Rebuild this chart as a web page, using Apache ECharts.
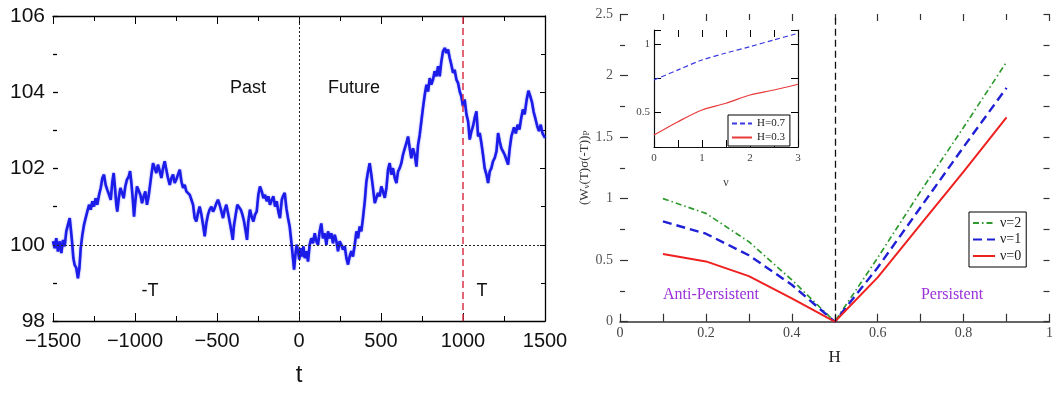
<!DOCTYPE html>
<html>
<head>
<meta charset="utf-8">
<script src="https://cdn.jsdelivr.net/npm/echarts@6/dist/echarts.min.js"></script>
<style>
  html, body { margin: 0; padding: 0; background: #fff; }
  #chart { width: 1056px; height: 405px; }
</style>
</head>
<body>
<div id="chart"></div>
<script>
// Price path over time, [t, price]
const walk = [
  [-1500,100.09],[-1490,99.91],[-1480,100.17],[-1470,99.82],[-1459,100.09],[-1449,99.78],[-1439,100.13],[-1429,99.96],
  [-1419,100.35],[-1409,100.52],[-1398,100.70],[-1392,100.44],[-1384,100.09],[-1376,99.65],[-1368,99.47],[-1358,99.39],
  [-1348,99.12],[-1339,99.39],[-1331,99.91],[-1321,100.26],[-1311,100.52],[-1301,100.70],[-1291,100.87],[-1280,101.05],
  [-1270,100.92],[-1260,101.14],[-1250,101.00],[-1240,101.22],[-1230,101.05],[-1219,101.31],[-1209,101.49],[-1199,101.75],
  [-1189,101.84],[-1179,101.57],[-1169,101.44],[-1158,101.31],[-1148,101.18],[-1138,101.66],[-1130,101.88],[-1122,101.49],
  [-1114,101.05],[-1108,100.87],[-1099,101.22],[-1089,101.49],[-1079,101.36],[-1069,101.22],[-1059,101.53],[-1049,101.71],
  [-1038,101.79],[-1030,101.93],[-1022,101.62],[-1014,101.22],[-1006,100.74],[-998,101.14],[-988,101.53],[-978,101.57],
  [-967,101.31],[-957,101.09],[-947,101.27],[-937,101.40],[-927,101.05],[-917,101.27],[-908,101.57],[-900,101.84],
  [-890,102.14],[-880,102.01],[-870,101.88],[-860,102.10],[-849,101.93],[-839,101.75],[-829,102.01],[-819,102.19],
  [-809,101.97],[-799,101.75],[-788,101.57],[-778,101.75],[-768,101.84],[-758,101.62],[-748,101.71],[-738,101.84],
  [-727,101.97],[-717,101.66],[-707,101.49],[-697,101.57],[-687,101.40],[-677,101.44],[-666,101.31],[-656,101.36],
  [-646,101.05],[-636,100.70],[-626,100.61],[-616,100.83],[-606,101.00],[-595,100.79],[-585,100.52],[-575,100.22],
  [-565,100.57],[-555,100.79],[-545,100.92],[-534,101.00],[-524,100.87],[-514,100.96],[-504,101.09],[-494,101.18],
  [-484,101.05],[-473,100.87],[-463,100.70],[-453,100.92],[-443,101.05],[-433,100.83],[-423,100.61],[-412,100.35],
  [-404,100.13],[-396,100.52],[-386,100.79],[-376,101.05],[-366,101.09],[-355,100.92],[-345,100.79],[-335,100.61],
  [-325,100.35],[-317,100.13],[-309,100.61],[-299,100.92],[-289,100.74],[-278,100.61],[-268,100.79],[-258,100.87],
  [-248,101.31],[-238,101.53],[-227,101.40],[-217,101.22],[-207,101.31],[-197,101.14],[-187,101.27],[-177,101.05],
  [-166,101.18],[-156,101.27],[-146,101.00],[-136,101.14],[-126,100.87],[-116,100.70],[-105,101.18],
  [-98,101.27],[-87,101.36],[-77,100.96],[-67,100.70],[-57,100.48],[-47,100.09],[-39,99.74],[-30,99.35],
  [-22,99.74],[-14,100.00],[-6,99.83],[2,99.61],[10,99.91],[18,99.69],[27,99.96],[35,99.65],
  [45,99.83],[55,99.56],[65,100.00],[75,100.17],[85,100.04],[96,100.30],[106,100.09],[116,100.00],
  [126,100.35],[136,100.56],[146,100.17],[157,100.30],[167,100.00],[177,100.35],[187,100.17],[197,100.30],
  [207,100.04],[218,100.26],[228,100.09],[238,99.83],[248,100.09],[258,100.00],[268,99.87],[279,99.96],
  [289,99.65],[299,99.48],[309,99.69],[319,99.83],[329,99.69],[340,100.00],[350,100.35],[360,100.17],
  [370,100.48],[380,100.35],[390,100.70],[401,101.14],[411,101.66],[421,101.92],[431,102.14],[441,101.84],
  [451,101.49],[462,101.09],[472,101.23],[482,101.36],[492,101.27],[502,101.53],[512,101.40],[523,101.23],
  [533,101.49],[543,101.97],[553,102.14],[563,101.84],[573,102.01],[584,101.75],[594,101.62],[604,101.92],
  [614,102.01],[624,102.14],[634,102.36],[645,102.53],[655,102.67],[665,102.84],[675,102.53],[685,102.27],
  [695,102.53],[706,102.36],[716,102.05],[726,102.62],[736,102.88],[746,103.24],[756,103.59],[767,103.94],
  [777,104.20],[787,104.02],[797,104.37],[807,104.20],[817,104.33],[827,104.55],[838,104.42],[848,104.68],
  [858,104.42],[868,104.81],[878,105.07],[889,105.16],[899,105.03],[909,105.12],[919,104.90],[929,104.72],
  [939,104.51],[949,104.59],[960,104.33],[970,104.24],[980,104.02],[990,103.89],[1000,103.63],[1010,103.81],
  [1021,103.42],[1031,103.24],[1041,102.76],[1051,102.97],[1061,103.11],[1071,103.32],[1082,103.50],[1092,102.84],
  [1102,102.93],[1112,102.67],[1122,102.36],[1132,102.01],[1143,101.84],[1153,101.62],[1163,101.92],[1173,102.01],
  [1183,102.19],[1193,102.27],[1204,102.45],[1214,102.93],[1224,102.71],[1234,102.53],[1244,102.45],[1254,102.36],
  [1265,102.23],[1275,102.10],[1285,102.53],[1295,102.84],[1311,103.08],[1322,102.92],[1333,103.15],[1344,103.02],
  [1354,103.30],[1365,103.55],[1376,103.42],[1388,103.80],[1399,104.04],[1410,103.90],[1420,103.75],[1431,103.48],
  [1442,103.30],[1452,103.12],[1463,102.98],[1474,103.15],[1485,102.92],[1500,102.80]
];

// Correlation vs Hurst exponent, one curve per nu
const hurst = [0.1, 0.2, 0.3, 0.4, 0.5, 0.6, 0.7, 0.8, 0.9];
const corrNu2 = [1.00, 0.88, 0.65, 0.34, 0, 0.52, 1.06, 1.58, 2.11];
const corrNu1 = [0.815, 0.715, 0.54, 0.30, 0, 0.44, 0.93, 1.42, 1.90];
const corrNu0 = [0.55, 0.49, 0.37, 0.19, 0, 0.36, 0.79, 1.22, 1.66];

// Inset: correlation vs nu at fixed H
const nuValues = [0, 0.5, 1, 1.5, 2, 2.5, 3];
const insetH07 = [0.737, 0.81, 0.882, 0.933, 0.979, 1.028, 1.076];
const insetH03 = [0.337, 0.434, 0.519, 0.568, 0.628, 0.664, 0.706];

const SANS = "'Liberation Sans',Arial,sans-serif";
const SERIF = "'Liberation Serif','Times New Roman',serif";

const pair = (xs, ys) => xs.map((x, i) => [x, ys[i]]);
const black = { color: '#000', width: 1 };

function frameAxis(extra) {
  return Object.assign({
    type: 'value',
    splitLine: { show: false },
    axisLabel: { show: false },
    axisLine: { show: false, onZero: false, lineStyle: black },
    axisTick: { inside: true, length: 6, lineStyle: black },
    minorTick: { show: true, splitNumber: 2, length: 4, lineStyle: black }
  }, extra);
}

// legend swatches show the line pattern only, no marker
const legendBase = {
  orient: 'vertical', borderColor: '#000', borderWidth: 1, backgroundColor: '#fff',
  selectedMode: false, itemStyle: { opacity: 0, borderWidth: 0 }
};

const chart = echarts.init(document.getElementById('chart'));

chart.setOption({
  animation: false,
  backgroundColor: '#fff',
  grid: [
    { left: 53, top: 16, width: 492, height: 305 },
    { left: 620, top: 14, width: 436, height: 307.7 },
    { left: 654, top: 30, width: 144, height: 117 }
  ],
  xAxis: [
    frameAxis({
      gridIndex: 0, position: 'bottom', min: -1500, max: 1500, interval: 500,
      axisLine: { show: true, onZero: false, lineStyle: { color: '#000', width: 1.3 } },
      axisTick: { inside: true, length: 8, lineStyle: black },
      minorTick: { show: true, splitNumber: 2, length: 5, lineStyle: black },
      axisLabel: {
        show: true, margin: 10, fontFamily: SANS, fontSize: 20, color: '#111',
        formatter: v => (v < 0 ? '\u2212' : '') + Math.abs(v)
      },
      name: 't', nameLocation: 'middle', nameGap: 42,
      nameTextStyle: { fontFamily: SANS, fontSize: 24, color: '#111' }
    }),
    frameAxis({
      gridIndex: 0, position: 'top', min: -1500, max: 1500, interval: 500,
      axisLine: { show: true, onZero: false, lineStyle: { color: '#000', width: 1.3 } },
      axisTick: { inside: true, length: 8, lineStyle: black },
      minorTick: { show: true, splitNumber: 2, length: 5, lineStyle: black }
    }),
    frameAxis({
      gridIndex: 1, position: 'bottom', min: 0, max: 1, interval: 0.2,
      axisLine: { show: true, onZero: false, lineStyle: { color: '#333', width: 1.6 } },
      axisTick: { inside: true, length: 8, lineStyle: { color: '#333', width: 1.2 } },
      minorTick: { show: true, splitNumber: 2, length: 8, lineStyle: { color: '#333', width: 1.2 } },
      axisLabel: { show: true, margin: 5, fontFamily: SERIF, fontSize: 14, color: '#444' },
      name: 'H', nameLocation: 'middle', nameGap: 27,
      nameTextStyle: { fontFamily: SERIF, fontSize: 17, color: '#222' }
    }),
    frameAxis({
      gridIndex: 1, position: 'top', min: 0, max: 1, interval: 0.2,
      axisTick: { inside: true, length: 7, lineStyle: { color: '#333', width: 1.2 } },
      minorTick: { show: true, splitNumber: 2, length: 6, lineStyle: { color: '#333', width: 1.2 } }
    }),
    frameAxis({
      gridIndex: 2, position: 'bottom', min: 0, max: 3, interval: 1,
      axisLine: { show: true, onZero: false, lineStyle: { color: '#111', width: 1.2 } },
      axisTick: { inside: true, length: 7, lineStyle: black },
      minorTick: { show: true, splitNumber: 2, length: 7, lineStyle: black },
      axisLabel: { show: true, margin: 6, fontFamily: SERIF, fontSize: 11, color: '#444' },
      name: '\u03bd', nameLocation: 'middle', nameGap: 30,
      nameTextStyle: { fontFamily: SERIF, fontSize: 12, color: '#444' }
    }),
    frameAxis({
      gridIndex: 2, position: 'top', min: 0, max: 3, interval: 1,
      axisTick: { inside: true, length: 7, lineStyle: black },
      minorTick: { show: true, splitNumber: 2, length: 7, lineStyle: black }
    })
  ],
  yAxis: [
    frameAxis({
      gridIndex: 0, position: 'left', min: 98, max: 106, interval: 2,
      axisTick: { inside: true, length: 5, lineStyle: { color: '#000', width: 1.3 } },
      minorTick: { show: true, splitNumber: 2, length: 4, lineStyle: { color: '#000', width: 1.3 } },
      axisLabel: { show: true, margin: 8, fontFamily: SANS, fontSize: 21, color: '#111' }
    }),
    frameAxis({
      gridIndex: 0, position: 'right', min: 98, max: 106, interval: 2,
      axisLine: { show: true, onZero: false, lineStyle: { color: '#000', width: 1.3 } },
      axisTick: { inside: true, length: 5, lineStyle: black },
      minorTick: { show: true, splitNumber: 2, length: 4, lineStyle: black }
    }),
    frameAxis({
      gridIndex: 1, position: 'left', min: 0, max: 2.5, interval: 0.5,
      axisTick: { inside: true, length: 8, lineStyle: { color: '#333', width: 1.2 } },
      minorTick: { show: true, splitNumber: 2, length: 5, lineStyle: { color: '#333', width: 1.2 } },
      axisLabel: { show: true, margin: 7, fontFamily: SERIF, fontSize: 14, color: '#555' },
      name: '(W{s|\u03bd}(T)\u03c3(-T)){s|P}', nameLocation: 'middle', nameGap: 22, nameRotate: 90,
      nameTextStyle: {
        fontFamily: SERIF, fontSize: 13, color: '#333',
        rich: { s: { fontFamily: SERIF, fontSize: 9, color: '#333', padding: [6, 0, 0, 0] } }
      }
    }),
    frameAxis({
      gridIndex: 1, position: 'right', min: 0, max: 2.5, interval: 0.5,
      axisTick: { inside: true, length: 6, lineStyle: { color: '#333', width: 1.2 } },
      minorTick: { show: true, splitNumber: 2, length: 6, lineStyle: { color: '#333', width: 1.2 } }
    }),
    frameAxis({
      gridIndex: 2, position: 'left', min: 0.25, max: 1.1, interval: 0.25,
      axisLine: { show: true, onZero: false, lineStyle: { color: '#111', width: 1.2 } },
      axisTick: { inside: true, length: 7, lineStyle: black },
      minorTick: { show: false },
      axisLabel: {
        show: true, margin: 4, fontFamily: SERIF, fontSize: 11, color: '#444',
        formatter: v => Math.abs(v - 0.5) < 1e-9 ? '0.5' : (Math.abs(v - 1) < 1e-9 ? '1' : '')
      }
    }),
    frameAxis({
      gridIndex: 2, position: 'right', min: 0.25, max: 1.1, interval: 0.25,
      axisLine: { show: true, onZero: false, lineStyle: { color: '#111', width: 1.2 } },
      axisTick: { inside: true, length: 7, lineStyle: black },
      minorTick: { show: false }
    })
  ],
  legend: [
    Object.assign({}, legendBase, {
      data: ['\u03bd=2', '\u03bd=1', '\u03bd=0'], left: 969, top: 212,
      itemWidth: 22, itemHeight: 12, itemGap: 2.5, padding: [4, 5, 4, 3],
      textStyle: { fontFamily: SERIF, fontSize: 14, color: '#222' }
    }),
    Object.assign({}, legendBase, {
      data: ['H=0.7', 'H=0.3'], left: 728, top: 115,
      itemWidth: 20, itemHeight: 11, itemGap: 3, padding: [3, 5, 3, 3],
      textStyle: { fontFamily: SERIF, fontSize: 11, color: '#222' }
    })
  ],
  series: [
    {
      type: 'line', xAxisIndex: 0, yAxisIndex: 0, data: walk, symbol: 'none', z: 3,
      color: '#1c1ce8',
      lineStyle: { color: '#1c1ce8', width: 2.6, shadowBlur: 2, shadowColor: 'rgba(70,70,255,0.6)' },
      markLine: {
        silent: true, symbol: ['none', 'none'], label: { show: false }, animation: false,
        data: [
          { yAxis: 100, lineStyle: { type: [2, 2], color: '#222', width: 1 } },
          { xAxis: 0, lineStyle: { type: [2, 2], color: '#222', width: 1 } },
          { xAxis: 1000, lineStyle: { type: [7, 4], color: '#d9344a', width: 1.5 } }
        ]
      }
    },
    {
      name: '\u03bd=2', type: 'line', xAxisIndex: 2, yAxisIndex: 2, data: pair(hurst, corrNu2),
      symbol: 'none', color: '#2f9a2f', lineStyle: { color: '#2f9a2f', width: 1.7, type: [6, 3, 1.5, 3] }
    },
    {
      name: '\u03bd=1', type: 'line', xAxisIndex: 2, yAxisIndex: 2, data: pair(hurst, corrNu1),
      symbol: 'none', color: '#1f1fd6', lineStyle: { color: '#1f1fd6', width: 2.4, type: [9, 5] }
    },
    {
      name: '\u03bd=0', type: 'line', xAxisIndex: 2, yAxisIndex: 2, data: pair(hurst, corrNu0),
      symbol: 'none', color: '#ee2020', lineStyle: { color: '#ee2020', width: 2 },
      markLine: {
        silent: true, symbol: ['none', 'none'], label: { show: false }, animation: false,
        data: [{ xAxis: 0.5, lineStyle: { type: [7, 4], color: '#111', width: 1.3 } }]
      }
    },
    {
      name: 'H=0.7', type: 'line', xAxisIndex: 4, yAxisIndex: 4, data: pair(nuValues, insetH07),
      symbol: 'none', smooth: 0.3, color: '#3a3ae0', lineStyle: { color: '#3a3ae0', width: 1.2, type: [5, 3] }
    },
    {
      name: 'H=0.3', type: 'line', xAxisIndex: 4, yAxisIndex: 4, data: pair(nuValues, insetH03),
      symbol: 'none', smooth: 0.3, color: '#e83a3a', lineStyle: { color: '#e83a3a', width: 1.2 }
    }
  ]
});

// Text annotations anchored in data coordinates
const at = (xi, yi, p) => chart.convertToPixel({ xAxisIndex: xi, yAxisIndex: yi }, p);
function note(text, xi, yi, p, font, fill, align) {
  const [x, y] = at(xi, yi, p);
  return { type: 'text', x, y, z: 10, silent: true,
    style: { text, font, fill, align: align || 'center', verticalAlign: 'middle' } };
}
chart.setOption({
  graphic: [
    note('Past', 0, 0, [-311, 104.12], "18px " + SANS, '#111'),
    note('Future', 0, 0, [335, 104.12], "18px " + SANS, '#111'),
    note('-T', 0, 0, [-909, 98.79], "18px " + SANS, '#111'),
    note('T', 0, 0, [1116, 98.79], "18px " + SANS, '#111'),
    note('Anti-Persistent', 2, 2, [0.1, 0.217], "16px " + SERIF, '#9b30d8', 'left'),
    note('Persistent', 2, 2, [0.773, 0.217], "16px " + SERIF, '#9b30d8')
  ]
});
</script>
</body>
</html>
